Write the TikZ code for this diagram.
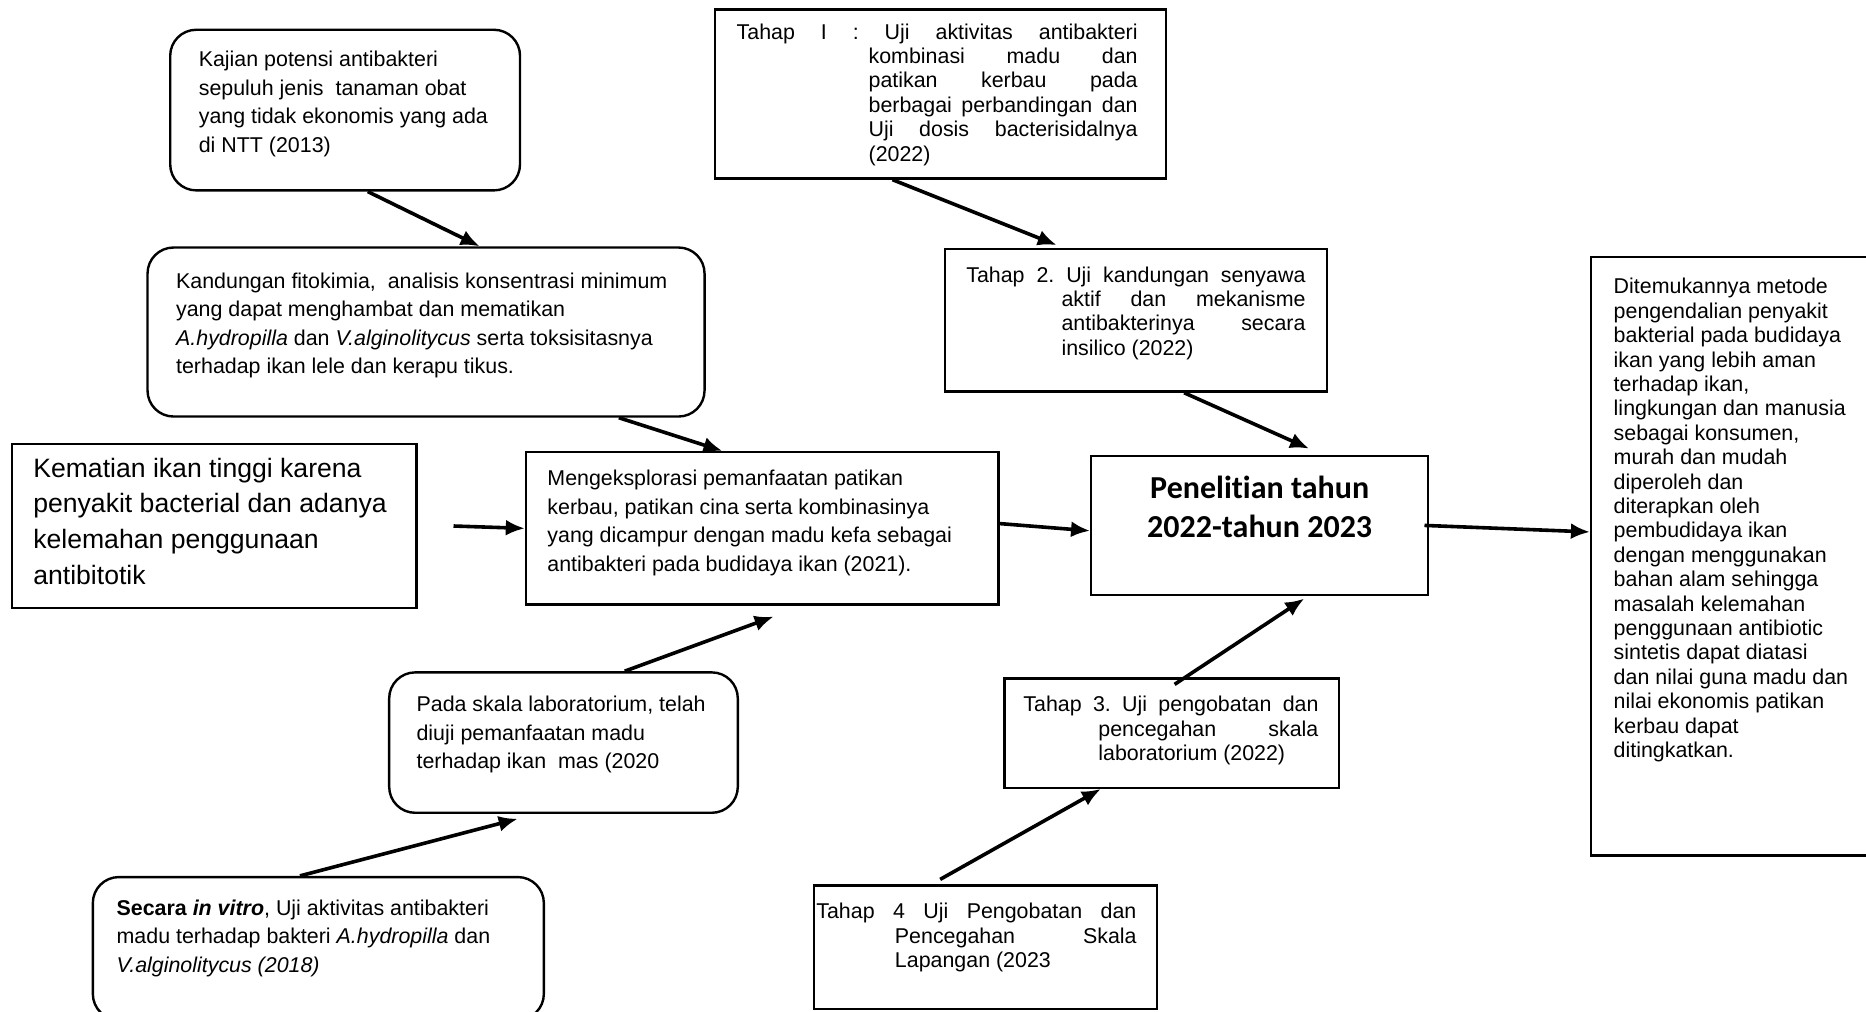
\documentclass[tikz,border=0pt]{standalone}
\usepackage{fontspec}
\setmainfont{Liberation Sans}
\newfontfamily\calibold[Ligatures={NoCommon,NoDiscretionary},Contextuals=NoAlternate]{Carlito}
\usetikzlibrary{arrows.meta}
\frenchspacing
\newcommand{\jl}[2]{\makebox[#1][s]{#2}}
\newcommand{\boxtxt}[3]{\parbox[c][#2][t]{#1}{#3}}

\begin{document}
\begin{tikzpicture}[x=0.595pt, y=-0.595pt,
    box/.style={draw, line width=1.2pt, inner xsep=10.7pt, inner ysep=8.9pt, font=\fontsize{10.7pt}{12.2pt}\selectfont},
    rbox/.style={box, rounded corners=13pt, font=\fontsize{10.7pt}{14.3pt}\selectfont},
    arr/.style={line width=1.8pt, -{Latex[length=9.5pt,width=8pt]}}]
\useasboundingbox (0,0) rectangle (1568,850);

% left column
\node[rbox, inner xsep=14.3pt, inner ysep=10.7pt] (kajian) at (290,92.5) {\boxtxt{146.3pt}{58.9pt}{Kajian potensi antibakteri\\ sepuluh jenis~ tanaman obat\\ yang tidak ekonomis yang ada\\ di NTT (2013)}};
\node[rbox, inner xsep=14.3pt, inner ysep=12.5pt] (kandungan) at (358,279) {\boxtxt{249.9pt}{59.5pt}{Kandungan fitokimia,~ analisis konsentrasi minimum\\ yang dapat menghambat dan mematikan\\ \textit{A.hydropilla} dan \textit{V.alginolitycus} serta toksisitasnya\\ terhadap ikan lele dan kerapu tikus.}};
\node[box, inner xsep=10.7pt, inner ysep=7pt, font=\fontsize{13.3pt}{17.9pt}\selectfont] (kematian) at (180,442) {\boxtxt{180.9pt}{68.1pt}{Kematian ikan tinggi karena\\ penyakit bacterial dan adanya\\ kelemahan penggunaan\\ antibitotik}};
\node[box, inner xsep=10.7pt, inner ysep=8.9pt, font=\fontsize{10.7pt}{14.3pt}\selectfont] (mengeks) at (640.5,444) {\boxtxt{214.8pt}{58.4pt}{Mengeksplorasi pemanfaatan patikan\\ kerbau, patikan cina serta kombinasinya\\ yang dicampur dengan madu kefa sebagai\\ antibakteri pada budidaya ikan (2021).}};
\node[rbox, inner xsep=13.7pt, inner ysep=11.9pt] (pada) at (473.5,624) {\boxtxt{146.9pt}{46.4pt}{Pada skala laboratorium, telah\\ diuji pemanfaatan madu\\ terhadap ikan~ mas (2020}};
\node[rbox, inner xsep=11.9pt, inner ysep=11.3pt] (secara) at (267.5,797) {\boxtxt{201.7pt}{48.8pt}{\textbf{Secara \textit{in vitro}}, Uji aktivitas antibakteri\\ madu terhadap bakteri \textit{A.hydropilla} dan\\ \textit{V.alginolitycus (2018)}}};

% stages
\node[box, inner ysep=7pt] (tahap1) at (790.5,79) {\boxtxt{204.1pt}{70.5pt}{\jl{200.5pt}{Tahap I : Uji aktivitas antibakteri}\\
    \hspace*{66pt}\jl{134.5pt}{kombinasi madu dan}\\
    \hspace*{66pt}\jl{134.5pt}{patikan kerbau pada}\\
    \hspace*{66pt}\jl{134.5pt}{berbagai perbandingan dan}\\
    \hspace*{66pt}\jl{134.5pt}{Uji dosis bacterisidalnya}\\
    \hspace*{66pt}(2022)}};
\node[box] (tahap2) at (954.5,269) {\boxtxt{169.6pt}{53.6pt}{\jl{169.6pt}{Tahap 2. Uji kandungan senyawa}\\
    \hspace*{47.6pt}\jl{122pt}{aktif dan mekanisme}\\
    \hspace*{47.6pt}\jl{122pt}{antibakterinya secara}\\
    \hspace*{47.6pt}insilico (2022)}};
\node[box, inner xsep=9.5pt] (tahap3) at (984.5,616) {\boxtxt{148.2pt}{36.9pt}{\jl{147.6pt}{Tahap 3. Uji pengobatan dan}\\
    \hspace*{37.5pt}\jl{110pt}{pencegahan skala}\\
    \hspace*{37.5pt}laboratorium (2022)}};
\node[box, inner xsep=1.2pt] (tahap4) at (828,796) {\boxtxt{169pt}{44.1pt}{\jl{160pt}{Tahap 4 Uji Pengobatan dan}\\
    \hspace*{39.3pt}\jl{120.8pt}{Pencegahan Skala}\\
    \hspace*{39.3pt}Lapangan (2023}};

% centre and result
\node[box, inner xsep=5pt, inner ysep=10pt] (penelitian) at (1058.5,441.5) {\boxtxt{158.4pt}{49.6pt}{\centering\calibold\bfseries\fontsize{16pt}{19.6pt}\selectfont Penelitian tahun\\ 2022-tahun 2023}};
\node[box, inner xsep=11.3pt, inner ysep=10.7pt] (ditemu) at (1463.5,467.5) {\boxtxt{127.9pt}{277.9pt}{Ditemukannya metode\\ pengendalian penyakit\\ bakterial pada budidaya\\ ikan yang lebih aman\\ terhadap ikan,\\ lingkungan dan manusia\\ sebagai konsumen,\\ murah dan mudah\\ diperoleh dan\\ diterapkan oleh\\ pembudidaya ikan\\ dengan menggunakan\\ bahan alam sehingga\\ masalah kelemahan\\ penggunaan antibiotic\\ sintetis dapat diatasi\\ dan nilai guna madu dan\\ nilai ekonomis patikan\\ kerbau dapat\\ ditingkatkan.}};

% arrows
\draw[arr] ([xshift=11.3pt]kajian.south) -- ([xshift=26.8pt]kandungan.north);
\draw[arr] ([xshift=96.4pt]kandungan.south) -- ([xshift=-19.9pt]mengeks.north);
\draw[arr] ([xshift=17.9pt]kematian.east) -- (mengeks.west);
\draw[arr] ([yshift=2.4pt]mengeks.east) -- ([yshift=-2.7pt]penelitian.west);
\draw[arr] ([xshift=30.6pt]pada.north) -- ([xshift=5.7pt,yshift=-5.4pt]mengeks.south);
\draw[arr] ([xshift=-9.2pt]secara.north) -- ([xshift=-22.9pt,yshift=-2.4pt]pada.south);
\draw[arr] ([xshift=-24.1pt]tahap1.south) -- ([xshift=-39.6pt,yshift=1.2pt]tahap2.north);
\draw[arr] ([xshift=24.1pt]tahap2.south) -- ([xshift=24.7pt,yshift=3pt]penelitian.north);
\draw[arr] ([xshift=1.5pt,yshift=-3.6pt]tahap3.north) -- ([xshift=22.3pt,yshift=-1.2pt]penelitian.south);
\draw[arr] ([xshift=-22.6pt,yshift=2.4pt]tahap4.north) -- ([xshift=-35.4pt]tahap3.south);
\draw[arr] ([xshift=-2.4pt]penelitian.east) -- ([yshift=12.2pt]ditemu.west);
\end{tikzpicture}
\end{document}
